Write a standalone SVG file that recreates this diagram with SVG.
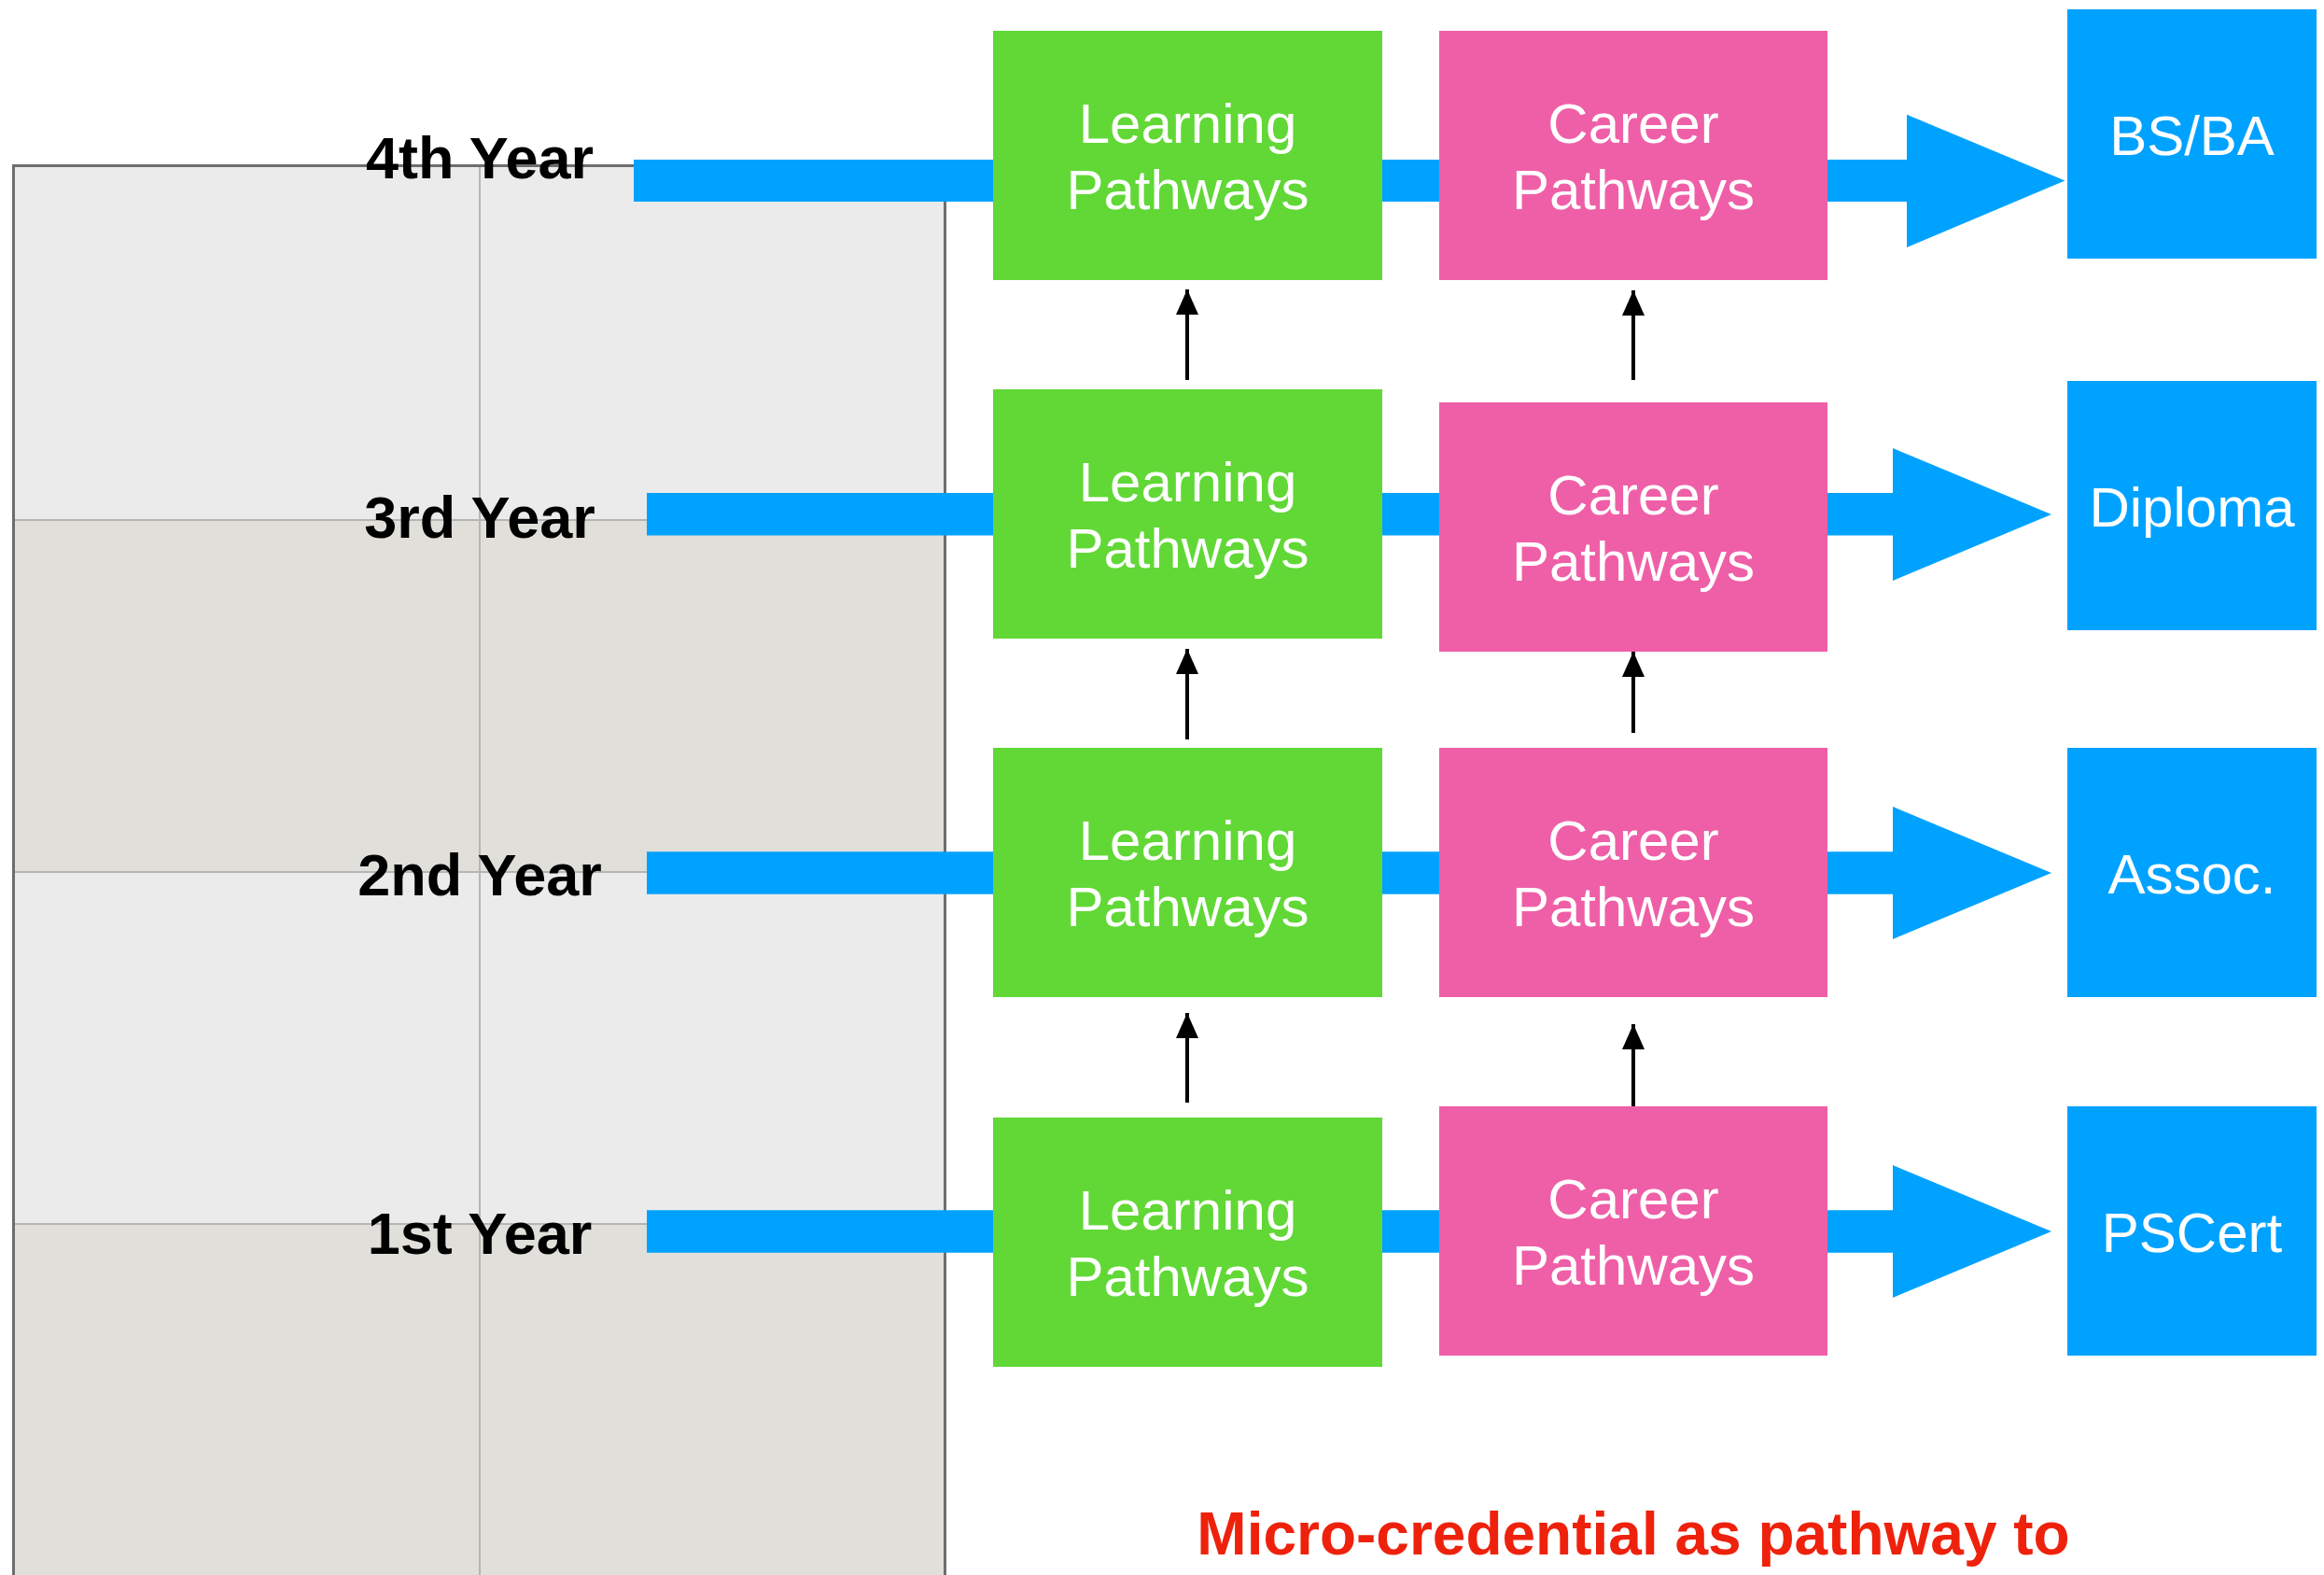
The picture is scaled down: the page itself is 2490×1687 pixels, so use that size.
<svg xmlns="http://www.w3.org/2000/svg" width="2490" height="1687" viewBox="0 0 2490 1687">
<defs>
<style>
.year{font-family:"Liberation Sans",Arial,sans-serif;font-weight:bold;font-size:63px;fill:#000;text-anchor:middle}
.lbl{font-family:"Liberation Sans",Arial,sans-serif;font-size:60px;fill:#fff;text-anchor:middle}
.learn{fill:#61D836}
.career{fill:#EF5FA7}
.cred{fill:#00A2FF}
.flow{fill:#00A2FF}
.up{stroke:#000;stroke-width:4;fill:none;marker-end:url(#head)}
.grid{stroke:#B5B5B5;stroke-width:2;fill:none}
.note{font-family:"Liberation Sans",Arial,sans-serif;font-weight:bold;font-size:64px;fill:#EE220C;text-anchor:middle}
</style>
<marker id="head" viewBox="0 0 27 24" refX="27" refY="12" markerWidth="27" markerHeight="24" markerUnits="userSpaceOnUse" orient="auto">
<path d="M0,0 L27,12 L0,24 Z" fill="#000"/>
</marker>
</defs>
<rect width="2490" height="1687" fill="#fff"/>
<g id="table">
<rect x="14.5" y="177.5" width="998" height="380" fill="#EBEBEB"/>
<rect x="14.5" y="557" width="998" height="377" fill="#E0DFDA"/>
<rect x="14.5" y="934" width="998" height="377" fill="#EBEBEB"/>
<rect x="14.5" y="1311" width="998" height="400" fill="#E0DFDA"/>
<line class="grid" x1="14.5" y1="557" x2="1012.5" y2="557"/>
<line class="grid" x1="14.5" y1="934" x2="1012.5" y2="934"/>
<line class="grid" x1="14.5" y1="1311" x2="1012.5" y2="1311"/>
<line class="grid" x1="514" y1="177.5" x2="514" y2="1687"/>
<path d="M14.5,1700 V177.5 H1012.5 V1700" fill="none" stroke="#6E6E6E" stroke-width="3"/>
</g>
<g id="connectors">
<polygon class="flow" points="679,171 2043,171 2043,122.7 2212.5,193.5 2043,265 2043,216 679,216"/>
<polygon class="flow" points="693,528 2028,528 2028,480 2198,551 2028,622 2028,573.5 693,573.5"/>
<polygon class="flow" points="693,912.3 2028,912.3 2028,864 2198,935 2028,1006 2028,957.7 693,957.7"/>
<polygon class="flow" points="693,1296.2 2028,1296.2 2028,1248 2198,1319 2028,1390 2028,1341.8 693,1341.8"/>
<line class="up" x1="1272" y1="407" x2="1272" y2="310"/>
<line class="up" x1="1750" y1="407" x2="1750" y2="311"/>
<line class="up" x1="1272" y1="792" x2="1272" y2="695"/>
<line class="up" x1="1750" y1="785" x2="1750" y2="698"/>
<line class="up" x1="1272" y1="1181" x2="1272" y2="1085"/>
<line class="up" x1="1750" y1="1185" x2="1750" y2="1097"/>
</g>
<g id="year4"><text class="year" x="514" y="190.7">4th Year</text></g>
<g id="year3"><text class="year" x="514" y="575.7">3rd Year</text></g>
<g id="year2"><text class="year" x="514" y="958.7">2nd Year</text></g>
<g id="year1"><text class="year" x="514" y="1342.5">1st Year</text></g>
<g id="learning4"><rect class="learn" x="1064" y="33" width="417" height="267"/><text class="lbl" x="1272.5" y="153">Learning</text><text class="lbl" x="1272.5" y="224">Pathways</text></g>
<g id="career4"><rect class="career" x="1542" y="33" width="416" height="267"/><text class="lbl" x="1750" y="153">Career</text><text class="lbl" x="1750" y="224">Pathways</text></g>
<g id="cred4"><rect class="cred" x="2215" y="10" width="267" height="267"/><text class="lbl" x="2348.5" y="165.5">BS/BA</text></g>
<g id="learning3"><rect class="learn" x="1064" y="417" width="417" height="267"/><text class="lbl" x="1272.5" y="537">Learning</text><text class="lbl" x="1272.5" y="608">Pathways</text></g>
<g id="career3"><rect class="career" x="1542" y="431" width="416" height="267"/><text class="lbl" x="1750" y="551">Career</text><text class="lbl" x="1750" y="622">Pathways</text></g>
<g id="cred3"><rect class="cred" x="2215" y="408" width="267" height="267"/><text class="lbl" x="2348.5" y="563.5">Diploma</text></g>
<g id="learning2"><rect class="learn" x="1064" y="801" width="417" height="267"/><text class="lbl" x="1272.5" y="921">Learning</text><text class="lbl" x="1272.5" y="992">Pathways</text></g>
<g id="career2"><rect class="career" x="1542" y="801" width="416" height="267"/><text class="lbl" x="1750" y="921">Career</text><text class="lbl" x="1750" y="992">Pathways</text></g>
<g id="cred2"><rect class="cred" x="2215" y="801" width="267" height="267"/><text class="lbl" x="2348.5" y="956.5">Assoc.</text></g>
<g id="learning1"><rect class="learn" x="1064" y="1197" width="417" height="267"/><text class="lbl" x="1272.5" y="1317">Learning</text><text class="lbl" x="1272.5" y="1388">Pathways</text></g>
<g id="career1"><rect class="career" x="1542" y="1185" width="416" height="267"/><text class="lbl" x="1750" y="1305">Career</text><text class="lbl" x="1750" y="1376">Pathways</text></g>
<g id="cred1"><rect class="cred" x="2215" y="1185" width="267" height="267"/><text class="lbl" x="2348.5" y="1340.5">PSCert</text></g>
<g id="caption"><text class="note" x="1750" y="1665">Micro-credential as pathway to</text></g>
</svg>
